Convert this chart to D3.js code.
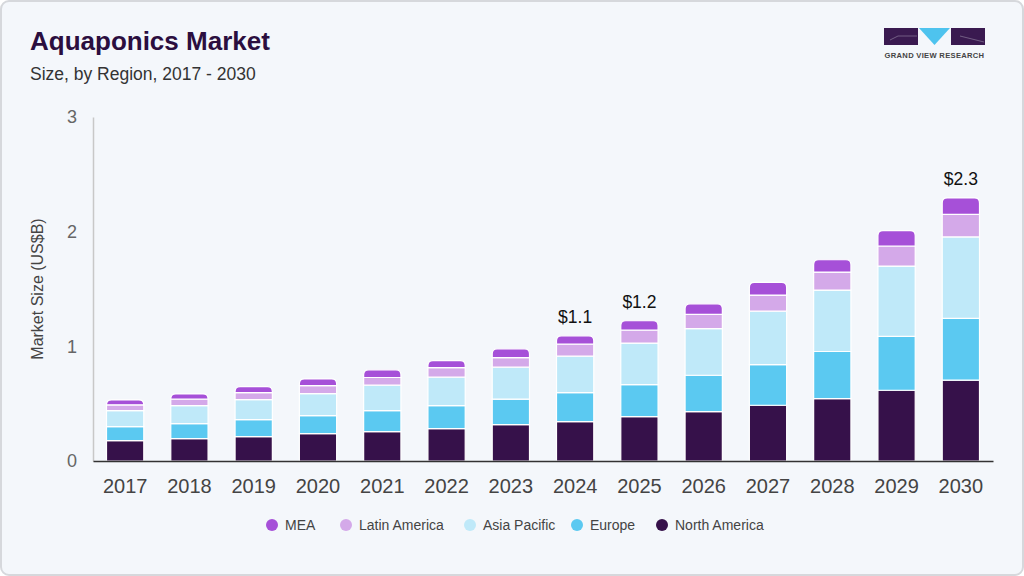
<!DOCTYPE html>
<html>
<head>
<meta charset="utf-8">
<script src="https://cdn.jsdelivr.net/npm/d3@7"></script>
<style>
body{margin:0;background:#fff;font-family:"Liberation Sans",Arial,sans-serif;}
</style>
</head>
<body>
<div class="container"></div>
<script>
// data (US$B)
var years = ["2017","2018","2019","2020","2021","2022","2023","2024","2025","2026","2027","2028","2029","2030"];
var northAmerica = [0.177,0.195,0.212,0.238,0.256,0.282,0.317,0.343,0.387,0.431,0.486,0.544,0.617,0.705];
var europe       = [0.123,0.131,0.149,0.158,0.183,0.201,0.222,0.254,0.279,0.317,0.355,0.411,0.469,0.538];
var asiaPacific  = [0.140,0.157,0.174,0.192,0.222,0.248,0.279,0.317,0.362,0.407,0.466,0.536,0.614,0.711];
var latinAmerica = [0.050,0.056,0.062,0.070,0.067,0.084,0.084,0.105,0.113,0.123,0.140,0.157,0.175,0.197];
var mea          = [0.043,0.046,0.052,0.058,0.067,0.061,0.076,0.073,0.082,0.093,0.110,0.107,0.134,0.143];
var seriesNames = ["North America","Europe","Asia Pacific","Latin America","MEA"];
var seriesColors = ["#36114a","#5bc9f1","#bfe9f9","#d4a9e9","#a650d8"];
var yTicks = [0,1,2,3];
var callouts = {"2024":"$1.1","2025":"$1.2","2030":"$2.3"};

var W = 1024, H = 576;
var margin = {left:93, right:31, top:117, bottom:115};

var svg = d3.select(".container").append("svg")
	.attr("width", W).attr("height", H);

// card
svg.append("rect")
	.attr("x",1).attr("y",1).attr("width",W-2).attr("height",H-2)
	.attr("rx",8)
	.attr("fill","#f4f7fb").attr("stroke","#d6d8dc").attr("stroke-width",2);

// title
svg.append("text").attr("x",30).attr("y",50)
	.attr("font-size",26).attr("font-weight","bold").attr("fill","#2b0e3f")
	.text("Aquaponics Market");
svg.append("text").attr("x",30).attr("y",80)
	.attr("font-size",17.5).attr("fill","#333")
	.text("Size, by Region, 2017 - 2030");

// logo
var logo = svg.append("g");
logo.append("rect").attr("x",884).attr("y",28).attr("width",34).attr("height",17).attr("fill","#3a1a50");
logo.append("rect").attr("x",951).attr("y",28).attr("width",34).attr("height",17).attr("fill","#3a1a50");
logo.append("path").attr("d","M919,28 L950,28 L934.5,45 Z").attr("fill","#4ec3ee");
logo.append("path").attr("d","M890,40 L898,36 L917,36").attr("stroke","#8a7a9a").attr("stroke-width",0.7).attr("fill","none");
logo.append("path").attr("d","M960,36 L984,42").attr("stroke","#8a7a9a").attr("stroke-width",0.7).attr("fill","none");
logo.append("text").attr("x",934.5).attr("y",58).attr("text-anchor","middle")
	.attr("font-size",7.6).attr("font-weight","bold").attr("fill","#444").attr("letter-spacing",0.3)
	.text("GRAND VIEW RESEARCH");

// scales
var x = d3.scaleBand().domain(years)
	.range([margin.left, W - margin.right])
	.paddingInner(0.42).paddingOuter(0.21);
var y = d3.scaleLinear().domain([0,3]).range([H - margin.bottom, margin.top]);

// stack
var rows = years.map(function(yr, i){
	return {year: yr, "North America": northAmerica[i], "Europe": europe[i],
		"Asia Pacific": asiaPacific[i], "Latin America": latinAmerica[i], "MEA": mea[i]};
});
var stacked = d3.stack().keys(seriesNames)(rows);
var color = d3.scaleOrdinal().domain(seriesNames).range(seriesColors);

// y axis
var yAxis = d3.axisLeft(y).tickValues(yTicks).tickSize(0).tickPadding(16).tickFormat(d3.format("d"));
var gy = svg.append("g").attr("transform","translate("+margin.left+",0)").call(yAxis);
gy.select(".domain").attr("stroke","#c8c8c8").attr("stroke-width",1.5);
gy.selectAll("text").attr("font-size",18).attr("fill","#666").attr("font-family","Liberation Sans, Arial, sans-serif");

svg.append("text")
	.attr("transform","translate(43,"+((y(0)+y(3))/2)+") rotate(-90)")
	.attr("text-anchor","middle").attr("font-size",16).attr("fill","#444")
	.text("Market Size (US$B)");

// bars
function topRounded(x0, y0, w, h, r){
	r = Math.min(r, h);
	return "M"+x0+","+(y0+h)+" L"+x0+","+(y0+r)+" Q"+x0+","+y0+" "+(x0+r)+","+y0+
		" L"+(x0+w-r)+","+y0+" Q"+(x0+w)+","+y0+" "+(x0+w)+","+(y0+r)+
		" L"+(x0+w)+","+(y0+h)+" Z";
}
var layers = svg.append("g").selectAll("g.layer")
	.data(stacked).enter().append("g")
	.attr("class","layer")
	.attr("fill", function(d){ return color(d.key); });

layers.each(function(layer, li){
	var isTop = li === stacked.length - 1;
	d3.select(this).selectAll("path")
		.data(layer).enter().append("path")
		.attr("d", function(d){
			var x0 = x(d.data.year), w = x.bandwidth();
			var y0 = y(d[1]), h = y(d[0]) - y(d[1]);
			return isTop ? topRounded(x0, y0, w, h, 5)
				: "M"+x0+","+y0+" h"+w+" v"+h+" h"+(-w)+" Z";
		})
		.attr("stroke","#ffffff").attr("stroke-width",1.2);
});

// x axis
var xAxis = d3.axisBottom(x).tickSize(0).tickPadding(18);
var gx = svg.append("g").attr("transform","translate(0,"+y(0)+")").call(xAxis);
gx.select(".domain").attr("stroke","#333").attr("stroke-width",1.5);
gx.selectAll("text").attr("font-size",20).attr("fill","#444").attr("font-family","Liberation Sans, Arial, sans-serif");

// callouts
var last = stacked[stacked.length - 1];
svg.append("g").selectAll("text")
	.data(last.filter(function(d){ return callouts[d.data.year]; }))
	.enter().append("text")
	.attr("x", function(d){ return x(d.data.year) + x.bandwidth()/2; })
	.attr("y", function(d){ return y(d[1]) - 13; })
	.attr("text-anchor","middle").attr("font-size",17.5).attr("fill","#111")
	.text(function(d){ return callouts[d.data.year]; });

// legend
var legendItems = ["MEA","Latin America","Asia Pacific","Europe","North America"];
var legendX = [272, 346, 470, 577, 662];
var lg = svg.append("g").selectAll("g")
	.data(legendItems).enter().append("g")
	.attr("transform", function(d,i){ return "translate("+legendX[i]+",525)"; });
lg.append("circle").attr("r",6).attr("fill", function(d){ return color(d); });
lg.append("text").attr("x",13).attr("y",5).attr("font-size",14).attr("fill","#444")
	.text(function(d){ return d; });
</script>
</body>
</html>
